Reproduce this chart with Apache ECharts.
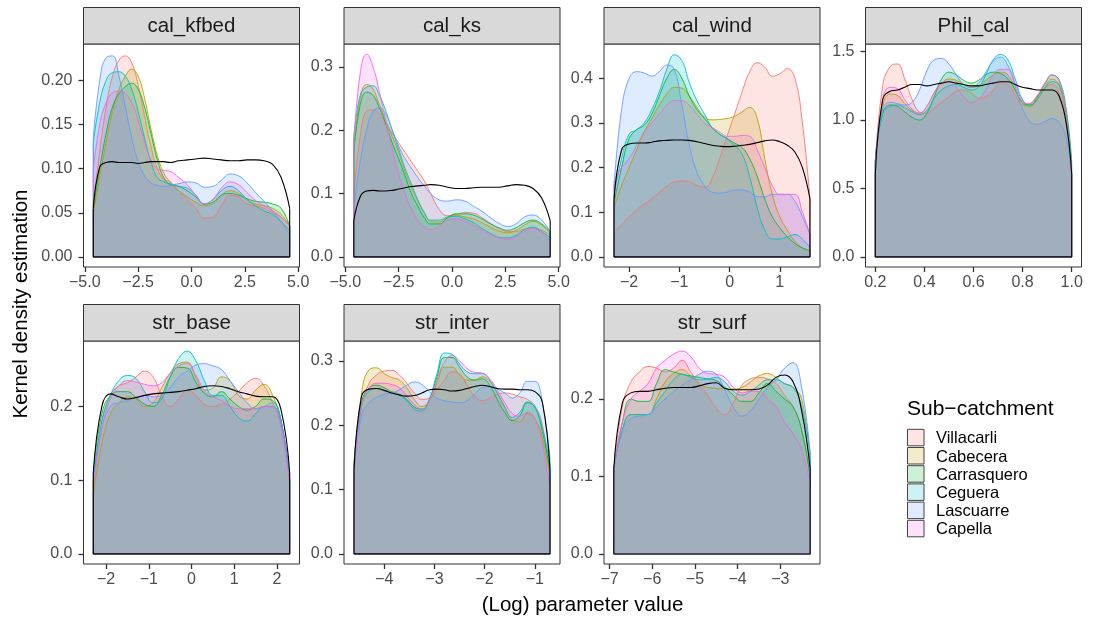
<!DOCTYPE html>
<html>
<head>
<meta charset="utf-8">
<title>Kernel density estimation by sub-catchment</title>
<script src="https://cdn.jsdelivr.net/npm/echarts@6/dist/echarts.min.js"></script>
<style>
  html, body { margin: 0; padding: 0; background: #ffffff; }
  #chart { width: 1095px; height: 617px; }
</style>
</head>
<body>
<div id="chart"></div>
<script>
// ---- data -----------------------------------------------------------------
const subCatchments = ['Villacarli', 'Cabecera', 'Carrasquero', 'Ceguera', 'Lascuarre', 'Capella'];
const parameters = ['cal_kfbed', 'cal_ks', 'cal_wind', 'Phil_cal', 'str_base', 'str_inter', 'str_surf'];

// cal_kfbed
const kfbedX = [-4.6,-4.3,-4.0,-3.7,-3.4,-3.1,-2.8,-2.5,-2.2,-1.9,-1.6,-1.3,-1.0,-0.6,-0.2,0.2,0.6,1.0,1.4,1.8,2.2,2.6,3.0,3.4,3.8,4.2,4.6];
const kfbedVillacarli = [0.06,0.12,0.17,0.205,0.223,0.228,0.22,0.195,0.16,0.125,0.10,0.088,0.085,0.075,0.065,0.055,0.044,0.045,0.058,0.07,0.068,0.06,0.058,0.055,0.05,0.045,0.035];
const kfbedCabecera = [0.05,0.09,0.13,0.165,0.19,0.205,0.213,0.205,0.18,0.145,0.115,0.095,0.085,0.075,0.068,0.062,0.058,0.06,0.07,0.075,0.072,0.065,0.06,0.058,0.055,0.048,0.035];
const kfbedCarrasquero = [0.055,0.1,0.14,0.17,0.185,0.193,0.197,0.19,0.17,0.14,0.11,0.09,0.082,0.08,0.075,0.068,0.06,0.062,0.07,0.072,0.07,0.066,0.063,0.062,0.06,0.055,0.035];
const kfbedCeguera = [0.13,0.175,0.2,0.209,0.21,0.205,0.19,0.165,0.135,0.108,0.09,0.085,0.083,0.08,0.078,0.07,0.06,0.065,0.075,0.08,0.075,0.065,0.058,0.052,0.048,0.04,0.03];
const kfbedLascuarre = [0.135,0.2,0.226,0.228,0.205,0.17,0.135,0.108,0.092,0.084,0.081,0.08,0.081,0.083,0.085,0.084,0.079,0.08,0.087,0.094,0.092,0.084,0.073,0.063,0.052,0.04,0.025];
const kfbedCapella = [0.10,0.15,0.175,0.186,0.188,0.185,0.175,0.155,0.13,0.11,0.1,0.098,0.097,0.09,0.082,0.07,0.06,0.065,0.078,0.085,0.082,0.073,0.064,0.058,0.052,0.045,0.035];
const kfbedPrior = [0.055,0.102,0.107,0.108,0.107,0.107,0.107,0.106,0.107,0.108,0.108,0.108,0.107,0.109,0.11,0.111,0.112,0.111,0.11,0.109,0.109,0.11,0.11,0.109,0.105,0.09,0.055];
const kfbedXTicks = [-5, -2.5, 0, 2.5, 5];
const kfbedYTicks = [0, 0.05, 0.1, 0.15, 0.2];

// cal_ks
const ksX = [-4.6,-4.3,-4.0,-3.7,-3.4,-3.1,-2.8,-2.5,-2.2,-1.9,-1.6,-1.3,-1.0,-0.6,-0.2,0.2,0.6,1.0,1.4,1.8,2.2,2.6,3.0,3.4,3.8,4.2,4.6];
const ksVillacarli = [0.10,0.19,0.23,0.232,0.225,0.21,0.195,0.18,0.165,0.15,0.135,0.12,0.1,0.075,0.065,0.067,0.07,0.069,0.062,0.053,0.045,0.04,0.04,0.044,0.045,0.042,0.035];
const ksCabecera = [0.17,0.25,0.272,0.265,0.24,0.215,0.19,0.165,0.135,0.11,0.088,0.07,0.056,0.055,0.062,0.066,0.063,0.06,0.054,0.047,0.041,0.038,0.042,0.05,0.056,0.05,0.038];
const ksCarrasquero = [0.165,0.24,0.26,0.255,0.235,0.21,0.18,0.155,0.128,0.1,0.08,0.062,0.052,0.052,0.062,0.068,0.068,0.066,0.06,0.052,0.046,0.042,0.046,0.054,0.058,0.052,0.04];
const ksCeguera = [0.19,0.255,0.268,0.27,0.255,0.23,0.2,0.17,0.14,0.115,0.09,0.07,0.058,0.058,0.063,0.064,0.06,0.054,0.045,0.037,0.031,0.03,0.034,0.043,0.047,0.04,0.03];
const ksLascuarre = [0.08,0.15,0.2,0.23,0.235,0.225,0.2,0.175,0.155,0.14,0.125,0.112,0.1,0.09,0.088,0.09,0.088,0.08,0.072,0.062,0.053,0.048,0.052,0.063,0.066,0.058,0.04];
const ksCapella = [0.18,0.29,0.32,0.3,0.26,0.215,0.17,0.13,0.1,0.075,0.058,0.047,0.043,0.048,0.058,0.06,0.056,0.05,0.042,0.035,0.03,0.028,0.032,0.04,0.045,0.037,0.025];
const ksPrior = [0.057,0.095,0.104,0.105,0.104,0.104,0.105,0.107,0.109,0.111,0.112,0.113,0.114,0.113,0.11,0.108,0.108,0.109,0.11,0.11,0.11,0.112,0.114,0.113,0.108,0.093,0.057];
const ksXTicks = [-5, -2.5, 0, 2.5, 5];
const ksYTicks = [0, 0.1, 0.2, 0.3];

// cal_wind
const windX = [-2.3,-2.15,-2.0,-1.85,-1.7,-1.55,-1.4,-1.25,-1.1,-0.95,-0.8,-0.65,-0.5,-0.35,-0.2,-0.05,0.1,0.25,0.4,0.55,0.7,0.85,1.0,1.15,1.3,1.45,1.6];
const windVillacarli = [0.055,0.072,0.09,0.105,0.118,0.13,0.145,0.158,0.168,0.17,0.168,0.16,0.156,0.175,0.22,0.27,0.32,0.37,0.415,0.435,0.425,0.405,0.41,0.422,0.4,0.3,0.13];
const windCabecera = [0.11,0.16,0.2,0.24,0.28,0.31,0.34,0.365,0.38,0.378,0.36,0.335,0.313,0.307,0.308,0.31,0.315,0.325,0.335,0.31,0.22,0.14,0.09,0.06,0.035,0.02,0.01];
const windCarrasquero = [0.12,0.2,0.265,0.285,0.295,0.32,0.36,0.4,0.42,0.4,0.36,0.33,0.31,0.29,0.275,0.265,0.255,0.245,0.22,0.18,0.13,0.09,0.065,0.045,0.03,0.02,0.015];
const windCeguera = [0.14,0.22,0.275,0.285,0.3,0.33,0.37,0.42,0.453,0.44,0.39,0.35,0.32,0.29,0.275,0.265,0.25,0.23,0.18,0.11,0.06,0.04,0.04,0.045,0.05,0.04,0.02];
const windLascuarre = [0.16,0.33,0.4,0.415,0.412,0.405,0.415,0.43,0.42,0.34,0.25,0.19,0.16,0.145,0.143,0.145,0.15,0.15,0.145,0.135,0.135,0.14,0.14,0.14,0.125,0.09,0.05];
const windCapella = [0.17,0.2,0.22,0.25,0.28,0.3,0.32,0.34,0.35,0.35,0.34,0.32,0.3,0.29,0.28,0.27,0.27,0.272,0.27,0.24,0.2,0.16,0.14,0.14,0.14,0.1,0.05];
const windPrior = [0.128,0.24,0.253,0.255,0.255,0.257,0.26,0.261,0.262,0.262,0.261,0.258,0.254,0.25,0.248,0.247,0.248,0.25,0.252,0.256,0.26,0.262,0.258,0.25,0.235,0.2,0.13];
const windXTicks = [-2, -1, 0, 1];
const windYTicks = [0, 0.1, 0.2, 0.3, 0.4];

// Phil_cal
const philX = [0.2,0.23,0.26,0.29,0.32,0.35,0.38,0.41,0.44,0.47,0.5,0.53,0.56,0.59,0.62,0.65,0.68,0.71,0.74,0.77,0.8,0.83,0.86,0.89,0.92,0.95,0.98,1.0];
const philVillacarli = [0.7,1.25,1.39,1.41,1.3,1.15,1.06,1.05,1.09,1.13,1.17,1.21,1.22,1.2,1.16,1.17,1.22,1.27,1.26,1.18,1.11,1.12,1.18,1.23,1.26,1.2,0.95,0.6];
const philCabecera = [0.7,1.1,1.19,1.18,1.12,1.07,1.05,1.1,1.2,1.27,1.3,1.29,1.26,1.24,1.25,1.29,1.33,1.35,1.33,1.22,1.12,1.1,1.16,1.24,1.3,1.25,1.0,0.62];
const philCarrasquero = [0.7,1.05,1.11,1.1,1.06,1.02,1.0,1.05,1.17,1.3,1.35,1.33,1.29,1.27,1.29,1.33,1.35,1.34,1.3,1.22,1.13,1.11,1.17,1.26,1.33,1.29,1.05,0.7];
const philCeguera = [0.7,1.05,1.1,1.11,1.09,1.06,1.04,1.07,1.16,1.22,1.25,1.26,1.24,1.22,1.24,1.33,1.44,1.48,1.44,1.3,1.15,1.11,1.15,1.23,1.28,1.25,1.0,0.65];
const philLascuarre = [0.7,1.08,1.13,1.12,1.11,1.13,1.22,1.36,1.44,1.45,1.41,1.33,1.26,1.24,1.27,1.35,1.43,1.46,1.4,1.25,1.08,0.99,0.97,0.99,1.01,0.98,0.85,0.6];
const philCapella = [0.65,1.15,1.24,1.23,1.15,1.08,1.05,1.1,1.2,1.27,1.28,1.24,1.17,1.13,1.15,1.22,1.33,1.37,1.37,1.27,1.14,1.12,1.18,1.27,1.33,1.28,1.0,0.6];
const philPrior = [0.6,1.15,1.21,1.22,1.24,1.26,1.26,1.25,1.26,1.27,1.28,1.27,1.26,1.25,1.25,1.26,1.27,1.28,1.28,1.26,1.24,1.23,1.22,1.22,1.22,1.17,0.95,0.6];
const philXTicks = [0.2, 0.4, 0.6, 0.8, 1.0];
const philYTicks = [0, 0.5, 1.0, 1.5];

// str_base
const baseX = [-2.3,-2.1,-1.9,-1.7,-1.5,-1.3,-1.1,-0.9,-0.7,-0.5,-0.3,-0.1,0.1,0.3,0.5,0.7,0.9,1.1,1.3,1.5,1.7,1.9,2.1,2.3];
const baseVillacarli = [0.1,0.18,0.215,0.228,0.232,0.24,0.248,0.24,0.215,0.2,0.21,0.222,0.215,0.203,0.2,0.203,0.21,0.22,0.232,0.238,0.228,0.205,0.18,0.1];
const baseCabecera = [0.08,0.15,0.19,0.205,0.213,0.21,0.2,0.205,0.225,0.245,0.258,0.26,0.24,0.222,0.225,0.24,0.235,0.215,0.21,0.222,0.23,0.215,0.18,0.1];
const baseCarrasquero = [0.11,0.19,0.215,0.22,0.22,0.212,0.203,0.2,0.215,0.24,0.253,0.252,0.233,0.218,0.213,0.22,0.21,0.2,0.195,0.2,0.21,0.208,0.18,0.1];
const baseCeguera = [0.1,0.18,0.215,0.235,0.242,0.238,0.22,0.205,0.21,0.24,0.265,0.275,0.262,0.235,0.215,0.215,0.2,0.185,0.18,0.19,0.2,0.2,0.175,0.1];
const baseLascuarre = [0.09,0.17,0.2,0.205,0.208,0.212,0.215,0.213,0.215,0.225,0.24,0.248,0.256,0.258,0.255,0.25,0.235,0.22,0.205,0.197,0.2,0.205,0.18,0.1];
const baseCapella = [0.09,0.17,0.21,0.228,0.235,0.233,0.23,0.228,0.232,0.245,0.255,0.258,0.243,0.222,0.213,0.208,0.2,0.197,0.197,0.197,0.2,0.198,0.17,0.09];
const basePrior = [0.11,0.2,0.217,0.213,0.21,0.212,0.215,0.217,0.218,0.219,0.22,0.222,0.224,0.227,0.228,0.227,0.224,0.22,0.217,0.214,0.213,0.213,0.195,0.11];
const baseXTicks = [-2, -1, 0, 1, 2];
const baseYTicks = [0, 0.1, 0.2];

// str_inter
const interX = [-4.6,-4.45,-4.3,-4.15,-4.0,-3.85,-3.7,-3.55,-3.4,-3.25,-3.1,-2.95,-2.8,-2.65,-2.5,-2.35,-2.2,-2.05,-1.9,-1.75,-1.6,-1.45,-1.3,-1.15,-1.0,-0.85,-0.7];
const interVillacarli = [0.14,0.23,0.265,0.278,0.284,0.285,0.278,0.265,0.25,0.24,0.242,0.255,0.27,0.283,0.28,0.262,0.245,0.238,0.242,0.248,0.25,0.248,0.244,0.24,0.23,0.2,0.12];
const interCabecera = [0.14,0.25,0.286,0.289,0.28,0.274,0.27,0.258,0.24,0.229,0.238,0.265,0.29,0.29,0.278,0.27,0.27,0.275,0.268,0.25,0.228,0.208,0.205,0.218,0.21,0.18,0.12];
const interCarrasquero = [0.14,0.235,0.258,0.262,0.258,0.252,0.248,0.24,0.228,0.225,0.24,0.275,0.305,0.305,0.29,0.275,0.27,0.272,0.262,0.24,0.22,0.207,0.215,0.235,0.228,0.19,0.13];
const interCeguera = [0.13,0.23,0.253,0.257,0.254,0.25,0.246,0.238,0.225,0.222,0.24,0.28,0.312,0.31,0.295,0.283,0.28,0.28,0.27,0.25,0.228,0.212,0.22,0.236,0.228,0.195,0.14];
const interLascuarre = [0.13,0.215,0.235,0.243,0.248,0.25,0.255,0.262,0.267,0.263,0.252,0.242,0.238,0.236,0.235,0.238,0.248,0.258,0.26,0.256,0.25,0.242,0.25,0.268,0.268,0.235,0.15];
const interCapella = [0.12,0.23,0.258,0.265,0.265,0.263,0.258,0.245,0.232,0.225,0.238,0.27,0.298,0.308,0.3,0.288,0.282,0.281,0.272,0.255,0.235,0.218,0.214,0.22,0.21,0.17,0.1];
const interPrior = [0.13,0.245,0.256,0.257,0.254,0.25,0.247,0.245,0.246,0.25,0.255,0.256,0.255,0.253,0.254,0.257,0.26,0.262,0.26,0.257,0.256,0.256,0.255,0.255,0.252,0.235,0.13];
const interXTicks = [-4, -3, -2, -1];
const interYTicks = [0, 0.1, 0.2, 0.3];

// str_surf
const surfX = [-6.9,-6.7,-6.5,-6.3,-6.1,-5.9,-5.7,-5.5,-5.3,-5.1,-4.9,-4.7,-4.5,-4.3,-4.1,-3.9,-3.7,-3.5,-3.3,-3.1,-2.9,-2.7,-2.5,-2.3];
const surfVillacarli = [0.11,0.19,0.222,0.235,0.242,0.24,0.235,0.24,0.25,0.235,0.22,0.205,0.188,0.18,0.195,0.218,0.226,0.228,0.226,0.22,0.205,0.19,0.16,0.1];
const surfCabecera = [0.11,0.16,0.18,0.18,0.18,0.2,0.222,0.233,0.238,0.23,0.22,0.215,0.214,0.213,0.213,0.215,0.222,0.23,0.233,0.228,0.22,0.215,0.2,0.12];
const surfCarrasquero = [0.11,0.17,0.2,0.197,0.197,0.22,0.238,0.235,0.232,0.23,0.228,0.226,0.224,0.215,0.205,0.197,0.197,0.208,0.22,0.21,0.2,0.19,0.16,0.1];
const surfCeguera = [0.11,0.16,0.18,0.18,0.18,0.195,0.21,0.225,0.232,0.228,0.225,0.226,0.228,0.222,0.21,0.205,0.21,0.218,0.225,0.225,0.22,0.215,0.19,0.13];
const surfLascuarre = [0.11,0.16,0.175,0.178,0.18,0.19,0.2,0.21,0.218,0.225,0.232,0.236,0.232,0.212,0.19,0.178,0.185,0.2,0.215,0.225,0.24,0.247,0.215,0.13];
const surfCapella = [0.11,0.17,0.2,0.21,0.22,0.24,0.25,0.258,0.262,0.255,0.24,0.233,0.232,0.228,0.215,0.208,0.21,0.21,0.2,0.19,0.17,0.155,0.135,0.09];
const surfPrior = [0.11,0.195,0.208,0.21,0.21,0.212,0.214,0.215,0.215,0.215,0.217,0.22,0.221,0.214,0.212,0.212,0.212,0.213,0.218,0.228,0.231,0.222,0.185,0.11];
const surfXTicks = [-7, -6, -5, -4, -3];
const surfYTicks = [0, 0.1, 0.2];

// ---- panel setup ------------------------------------------------------------
const panels = [
  { x: kfbedX, curves: [kfbedVillacarli, kfbedCabecera, kfbedCarrasquero, kfbedCeguera, kfbedLascuarre, kfbedCapella], prior: kfbedPrior, xTicks: kfbedXTicks, yTicks: kfbedYTicks, xRange: [-5.06, 5.06], yRange: [-0.0115, 0.2415], xDec: 1, yDec: 2 },
  { x: ksX, curves: [ksVillacarli, ksCabecera, ksCarrasquero, ksCeguera, ksLascuarre, ksCapella], prior: ksPrior, xTicks: ksXTicks, yTicks: ksYTicks, xRange: [-5.06, 5.06], yRange: [-0.016, 0.336], xDec: 1, yDec: 1 },
  { x: windX, curves: [windVillacarli, windCabecera, windCarrasquero, windCeguera, windLascuarre, windCapella], prior: windPrior, xTicks: windXTicks, yTicks: windYTicks, xRange: [-2.5, 1.8], yRange: [-0.0227, 0.477], xDec: 0, yDec: 1 },
  { x: philX, curves: [philVillacarli, philCabecera, philCarrasquero, philCeguera, philLascuarre, philCapella], prior: philPrior, xTicks: philXTicks, yTicks: philYTicks, xRange: [0.16, 1.04], yRange: [-0.074, 1.556], xDec: 1, yDec: 1 },
  { x: baseX, curves: [baseVillacarli, baseCabecera, baseCarrasquero, baseCeguera, baseLascuarre, baseCapella], prior: basePrior, xTicks: baseXTicks, yTicks: baseYTicks, xRange: [-2.53, 2.53], yRange: [-0.0137, 0.2887], xDec: 0, yDec: 1 },
  { x: interX, curves: [interVillacarli, interCabecera, interCarrasquero, interCeguera, interLascuarre, interCapella], prior: interPrior, xTicks: interXTicks, yTicks: interYTicks, xRange: [-4.8, -0.5], yRange: [-0.0157, 0.3307], xDec: 0, yDec: 1 },
  { x: surfX, curves: [surfVillacarli, surfCabecera, surfCarrasquero, surfCeguera, surfLascuarre, surfCapella], prior: surfPrior, xTicks: surfXTicks, yTicks: surfYTicks, xRange: [-7.13, -2.07], yRange: [-0.013, 0.275], xDec: 0, yDec: 1 }
];

// facet layout (pixels)
const panelBoxes = [
  { left: 83.5, top: 44 }, { left: 344, top: 44 }, { left: 604, top: 44 }, { left: 865.5, top: 44 },
  { left: 83.5, top: 341 }, { left: 344, top: 341 }, { left: 604, top: 341 }
];
const PANEL_W = 216, PANEL_H = 223, STRIP_H = 36.5;

// styling
const palette = ['#F8766D', '#B79F00', '#00BA38', '#00BFC4', '#619CFF', '#F564E3'];
const FONT = '"Liberation Sans", Arial, Helvetica, sans-serif';
const INK = '#333333';

function hexToRgba(hex, a) {
  const n = parseInt(hex.slice(1), 16);
  return 'rgba(' + ((n >> 16) & 255) + ',' + ((n >> 8) & 255) + ',' + (n & 255) + ',' + a + ')';
}
const fmt = d => v => (v < 0 ? '\u2212' : '') + Math.abs(v).toFixed(d);

const grids = [], xAxes = [], yAxes = [], series = [], graphics = [];

panels.forEach((p, i) => {
  const box = panelBoxes[i];
  grids.push({
    left: box.left, top: box.top, width: PANEL_W, height: PANEL_H,
    show: true, borderColor: INK, borderWidth: 1, backgroundColor: '#ffffff',
    containLabel: false, outerBoundsMode: 'none'
  });
  xAxes.push({
    type: 'value', gridIndex: i, min: p.xRange[0], max: p.xRange[1],
    axisLine: { show: false, onZero: false },
    splitLine: { show: false },
    axisTick: { show: true, length: 5, customValues: p.xTicks, lineStyle: { color: INK, width: 1.3 } },
    axisLabel: { customValues: p.xTicks, formatter: fmt(p.xDec), color: '#4D4D4D', fontSize: 16, fontFamily: FONT, margin: 8 }
  });
  yAxes.push({
    type: 'value', gridIndex: i, min: p.yRange[0], max: p.yRange[1],
    axisLine: { show: false, onZero: false },
    splitLine: { show: false },
    axisTick: { show: true, length: 5, customValues: p.yTicks, lineStyle: { color: INK, width: 1.3 } },
    axisLabel: { customValues: p.yTicks, formatter: fmt(p.yDec), color: '#4D4D4D', fontSize: 16, fontFamily: FONT, margin: 11 }
  });

  const n = p.x.length - 1;
  const x0 = p.x[0], xn = p.x[n];

  // one filled density per sub-catchment, each with its closing edges
  p.curves.forEach((ys, k) => {
    series.push({
      type: 'line', name: subCatchments[k], xAxisIndex: i, yAxisIndex: i,
      data: p.x.map((x, j) => [x, ys[j]]),
      smooth: 0.45, symbol: 'none', silent: true, animation: false,
      lineStyle: { color: palette[k], width: 0.9 },
      itemStyle: { color: palette[k] },
      areaStyle: { color: palette[k], opacity: 0.2 },
      z: 2
    });
    series.push({
      type: 'line', xAxisIndex: i, yAxisIndex: i,
      data: [[x0, ys[0]], [x0, 0], [xn, 0], [xn, ys[n]]],
      symbol: 'none', silent: true, animation: false,
      lineStyle: { color: palette[k], width: 0.9 },
      z: 2
    });
  });

  // prior density (outline only)
  series.push({
    type: 'line', name: 'prior', xAxisIndex: i, yAxisIndex: i,
    data: p.x.map((x, j) => [x, p.prior[j]]),
    smooth: 0.45, symbol: 'none', silent: true, animation: false,
    lineStyle: { color: '#000000', width: 1.1 },
    z: 3
  });
  series.push({
    type: 'line', xAxisIndex: i, yAxisIndex: i,
    data: [[x0, p.prior[0]], [x0, 0], [xn, 0], [xn, p.prior[n]]],
    symbol: 'none', silent: true, animation: false,
    lineStyle: { color: '#000000', width: 1.1 },
    z: 3
  });

  // facet strip
  graphics.push({
    type: 'rect', silent: true,
    shape: { x: box.left, y: box.top - STRIP_H, width: PANEL_W, height: STRIP_H },
    style: { fill: '#D9D9D9', stroke: INK, lineWidth: 1 }
  });
  graphics.push({
    type: 'text', silent: true,
    x: box.left + PANEL_W / 2, y: box.top - STRIP_H / 2 + 0.8,
    style: { text: parameters[i], fill: '#1A1A1A', font: '20.5px ' + FONT, align: 'center', verticalAlign: 'middle' }
  });
});

// axis titles
graphics.push({
  type: 'text', silent: true, x: 582.5, y: 605,
  style: { text: '(Log) parameter value', fill: '#000000', font: '20.5px ' + FONT, align: 'center', verticalAlign: 'middle' }
});
graphics.push({
  type: 'text', silent: true, x: 21, y: 304, rotation: Math.PI / 2,
  style: { text: 'Kernel density estimation', fill: '#000000', font: '20.5px ' + FONT, align: 'center', verticalAlign: 'middle' }
});

// legend
graphics.push({
  type: 'text', silent: true, x: 907, y: 409,
  style: { text: 'Sub\u2212catchment', fill: '#000000', font: '21px ' + FONT, align: 'left', verticalAlign: 'middle' }
});
subCatchments.forEach((name, k) => {
  const top = 429.3 + k * 18.2;
  graphics.push({
    type: 'rect', silent: true,
    shape: { x: 907.5, y: top, width: 16.5, height: 16.5 },
    style: { fill: hexToRgba(palette[k], 0.2), stroke: '#444444', lineWidth: 1 }
  });
  graphics.push({
    type: 'text', silent: true, x: 936, y: top + 9.5,
    style: { text: name, fill: '#000000', font: '16.5px ' + FONT, align: 'left', verticalAlign: 'middle' }
  });
});

const chart = echarts.init(document.getElementById('chart'), null, { renderer: 'canvas' });
chart.setOption({
  animation: false,
  backgroundColor: '#ffffff',
  textStyle: { fontFamily: FONT },
  grid: grids,
  xAxis: xAxes,
  yAxis: yAxes,
  series: series,
  graphic: { elements: graphics }
});
</script>
</body>
</html>
